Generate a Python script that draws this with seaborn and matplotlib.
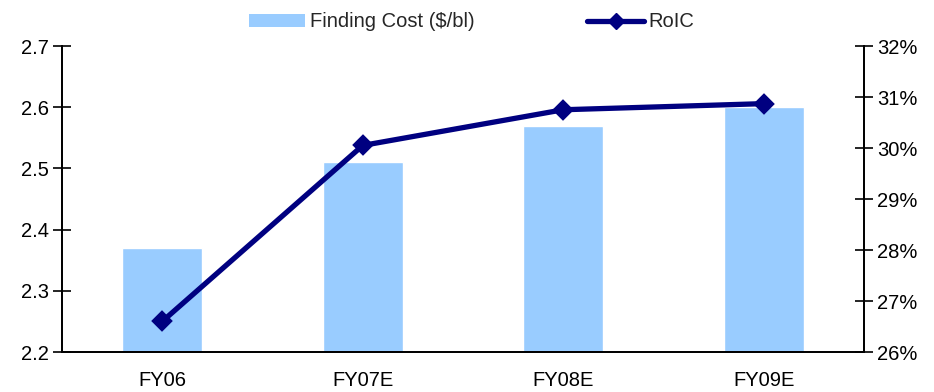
import matplotlib
matplotlib.use("Agg")
import matplotlib.pyplot as plt
from matplotlib.patches import Patch
from matplotlib.lines import Line2D
from matplotlib.ticker import FixedLocator, FuncFormatter
import seaborn as sns
import pandas as pd

# Data
years = ["FY06", "FY07E", "FY08E", "FY09E"]
finding_cost = [2.37, 2.51, 2.57, 2.60]      # $/bl
roic = [26.6, 30.05, 30.75, 30.87]           # %

bar_color = "#99CCFF"
line_color = "#000080"
fs = 14.5

sns.set_theme(style="white")
plt.rcParams["font.family"] = ["Liberation Sans", "DejaVu Sans"]
plt.rcParams["font.size"] = fs

df = pd.DataFrame({"year": years, "cost": finding_cost, "roic": roic})

fig = plt.figure(figsize=(9.34, 3.92), dpi=100)
ax = fig.add_axes([62 / 934, 40 / 392, (864 - 62) / 934, (352 - 46) / 392])

sns.barplot(data=df, x="year", y="cost", color=bar_color, width=0.4,
            saturation=1, ax=ax)
ax.set_ylim(2.2, 2.7)
ax.set_yticks([2.2, 2.3, 2.4, 2.5, 2.6, 2.7])
ax.yaxis.set_major_formatter(FuncFormatter(lambda v, p: f"{v:.1f}"))

ax2 = ax.twinx()
sns.pointplot(data=df, x="year", y="roic", color=line_color, markers="D",
              markersize=8.5, linewidth=3.8, ax=ax2)
ax2.set_ylim(26, 32)
ax2.set_yticks(range(26, 33))
ax2.yaxis.set_major_formatter(FuncFormatter(lambda v, p: f"{int(v)}%"))

for a in (ax, ax2):
    a.set_xlim(-0.5, len(years) - 0.5)
    a.set_xlabel("")
    a.set_ylabel("")
    a.grid(False)
    a.spines["top"].set_visible(False)
    for s in a.spines.values():
        s.set_color("black")
        s.set_linewidth(1.3)

# Category labels centred on bars, tick marks on category boundaries
ax.xaxis.set_major_locator(FixedLocator([0.5, 1.5, 2.5]))
ax.xaxis.set_major_formatter(FuncFormatter(lambda v, p: ""))
ax.xaxis.set_minor_locator(FixedLocator(range(len(years))))
ax.xaxis.set_minor_formatter(FuncFormatter(lambda v, p: years[int(round(v))]))
ax.tick_params(axis="x", which="major", direction="inout", length=16,
               width=1.2, color="black")
ax.tick_params(axis="x", which="minor", length=0, pad=14, labelsize=fs,
               labelcolor="black")
ax.tick_params(axis="y", direction="inout", length=13, width=1.2,
               color="black", labelsize=fs, labelcolor="black", pad=3,
               left=True)
ax2.tick_params(axis="y", direction="inout", length=13, width=1.2,
                color="black", labelsize=fs, labelcolor="black", pad=3,
                right=True)
ax2.set_xticks([])

handles = [
    Patch(facecolor=bar_color, edgecolor="none"),
    Line2D([], [], color=line_color, lw=3.8, marker="D", markersize=8.5),
]
fig.legend(handles, ["Finding Cost ($/bl)", "RoIC"], loc="center",
           bbox_to_anchor=(0.505, 0.944), ncol=2, frameon=False,
           columnspacing=5.6, handlelength=2.8, handleheight=0.6,
           handletextpad=0.25, fontsize=fs)

fig.savefig("out.png", dpi=100, facecolor="white")
